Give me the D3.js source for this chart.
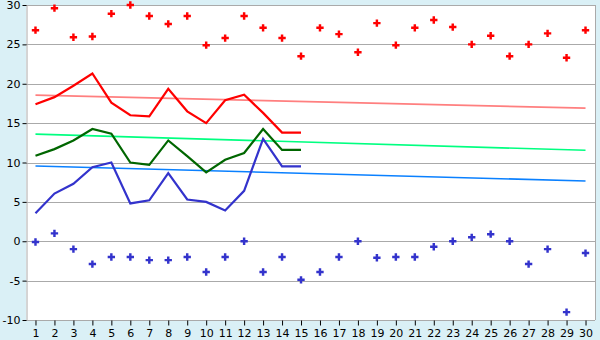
<!DOCTYPE html>
<html>
<head>
<meta charset="utf-8">
<script src="https://cdn.jsdelivr.net/npm/d3@7"></script>
<style>
  html, body { margin: 0; padding: 0; background: #daf0f6; }
  svg { display: block; }
  .tick text { font-family: "DejaVu Sans", Verdana, sans-serif; font-size: 11px; fill: #000; }
</style>
</head>
<body>
<div id="chart"></div>
<script>
const days = d3.range(1, 31);
const yTicks = [-10, -5, 0, 5, 10, 15, 20, 25, 30];

// daily maxima / minima (markers)
const highs = [26.8, 29.6, 25.9, 26.0, 28.9, 30.0, 28.6, 27.6, 28.6, 24.9,
               25.8, 28.6, 27.1, 25.8, 23.5, 27.1, 26.3, 24.0, 27.7, 24.9,
               27.1, 28.1, 27.2, 25.0, 26.1, 23.5, 25.0, 26.4, 23.3, 26.8];
const lows = [-0.1, 1.0, -1.0, -2.9, -2.0, -2.0, -2.4, -2.4, -2.0, -3.9,
              -2.0, 0.0, -3.9, -2.0, -4.9, -3.9, -2.0, 0.0, -2.1, -2.0,
              -2.0, -0.7, 0.0, 0.5, 0.9, 0.0, -2.9, -1.0, -9.0, -1.5];

// measured lines, days 1..15
const redLine = [17.4, 18.3, 19.75, 21.3, 17.6, 16.0, 15.85, 19.35, 16.5, 15.0,
                 17.9, 18.6, 16.3, 13.8, 13.8];
const greenLine = [10.85, 11.7, 12.8, 14.25, 13.65, 10.0, 9.7, 12.8, 10.8, 8.75,
                   10.35, 11.2, 14.25, 11.6, 11.6];
const blueLine = [3.55, 6.05, 7.3, 9.4, 10.0, 4.8, 5.2, 8.65, 5.3, 5.0,
                  3.9, 6.4, 13.0, 9.5, 9.5];

// trend lines (value at day 1 and day 30)
const trendDays = [1, 30];
const redTrend = [18.55, 16.9];
const greenTrend = [13.6, 11.55];
const blueTrend = [9.55, 7.65];

const w = 600, h = 340;
const padL = 26, padR = 595, padT = 5, padB = 320;

const svg = d3.select("#chart").append("svg")
  .attr("width", w)
  .attr("height", h);

svg.append("rect")
  .attr("x", padL).attr("y", padT)
  .attr("width", padR - padL).attr("height", padB - padT)
  .attr("fill", "#fff");

const xScale = d3.scaleLinear().domain([0.5, 30.5]).range([padL, padR]);
const yScale = d3.scaleLinear().domain([-10, 30]).range([padB, padT]);

// grid
svg.append("g")
  .selectAll("line")
  .data(yTicks)
  .enter()
  .append("line")
    .attr("x1", padL).attr("x2", padR)
    .attr("y1", d => Math.round(yScale(d)) + 0.5)
    .attr("y2", d => Math.round(yScale(d)) + 0.5)
    .attr("stroke", "#aaaaaa")
    .attr("stroke-width", 1);

// right side of frame
svg.append("line")
  .attr("x1", padR + 0.5).attr("x2", padR + 0.5)
  .attr("y1", padT).attr("y2", padB)
  .attr("stroke", "#aaaaaa");

const xAxis = d3.axisBottom(xScale).tickValues(days).tickSize(5).tickPadding(4).tickSizeOuter(0);
const yAxis = d3.axisLeft(yScale).tickValues(yTicks).tickSize(4).tickPadding(2).tickSizeOuter(0)
  .tickFormat(d => String(d));

const gx = svg.append("g")
  .attr("transform", "translate(0," + (Math.round(padB) + 0.5) + ")")
  .call(xAxis);
gx.select(".domain").remove();
gx.selectAll(".tick line").attr("stroke", "#000");

const gy = svg.append("g")
  .attr("transform", "translate(" + (padL + 0.5) + ",0)")
  .call(yAxis);
gy.select(".domain").attr("stroke", "#aaaaaa");
gy.selectAll(".tick line").attr("stroke", "#000");

// trend lines
function trend(vals, color) {
  const pts = trendDays.map((d, i) => [d, vals[i]]);
  svg.append("path")
    .attr("d", d3.line().x(d => xScale(d[0])).y(d => yScale(d[1]))(pts))
    .attr("fill", "none")
    .attr("stroke", color)
    .attr("stroke-width", 1.6);
}
trend(redTrend, "#ff7f7f");
trend(greenTrend, "#00ff80");
trend(blueTrend, "#0a80ff");

// measured lines
function series(vals, color) {
  svg.append("path")
    .attr("d", d3.line().x((d, i) => xScale(i + 1)).y(d => yScale(d))(vals))
    .attr("fill", "none")
    .attr("stroke", color)
    .attr("stroke-width", 2.2)
    .attr("stroke-linejoin", "miter");
}
series(redLine, "#ff0000");
series(greenLine, "#006600");
series(blueLine, "#3333cc");

// markers
const cross = d3.symbol().type(d3.symbolCross).size(30);
function markers(vals, color) {
  svg.append("g")
    .selectAll("path")
    .data(vals)
    .enter()
    .append("path")
      .attr("d", cross)
      .attr("transform", (d, i) => "translate(" + xScale(i + 1) + "," + yScale(d) + ")")
      .attr("fill", color);
}
markers(highs, "#ff0000");
markers(lows, "#3333cc");
</script>
</body>
</html>
